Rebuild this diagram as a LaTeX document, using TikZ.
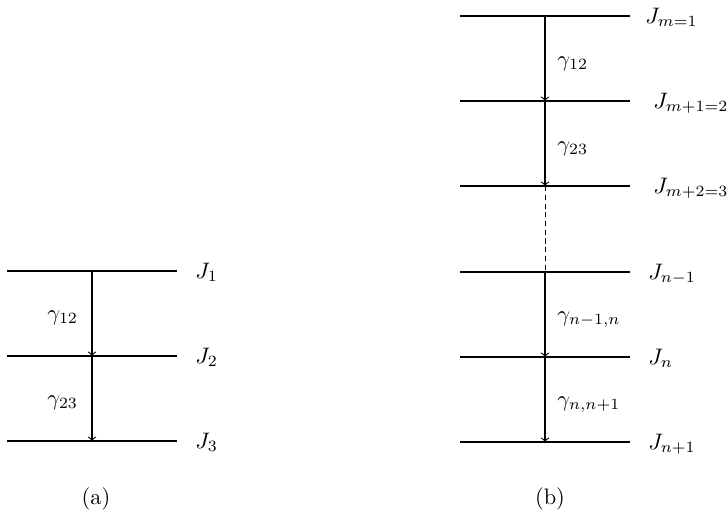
\documentclass[tikz,border=0pt]{standalone}
\begin{document}
\begin{tikzpicture}[x=0.446pt,y=-0.446pt,
  level/.style={line width=1.15pt},
  trans/.style={->,line width=0.5pt},
  gap/.style={line width=0.45pt,dash pattern=on 2.3pt off 1.6pt},
  jlab/.style={anchor=base west,inner sep=0pt},
  glab/.style={anchor=base west,inner sep=0pt},
  caplab/.style={anchor=base,inner sep=0pt}]
\useasboundingbox (0,0) rectangle (728,516);
% panel (a)
\foreach \n/\y in {1/271,2/356,3/441}{
  \coordinate (aL\n) at (7,\y);
  \coordinate (aR\n) at (177,\y);
  \coordinate (aM\n) at (92,\y);
}
\foreach \n in {1,2,3}{\draw[level] (aL\n) -- (aR\n);}
\draw[trans] (aM1) -- (aM2);
\draw[trans] (aM2) -- (aM3);
\node[jlab] (aJ1) at (195,278) {$J_1$};
\node[jlab] (aJ2) at (195,363) {$J_2$};
\node[jlab] (aJ3) at (195,448) {$J_3$};
\node[glab] (ag12) at (47,320) {$\gamma_{12}$};
\node[glab] (ag23) at (47,405) {$\gamma_{23}$};
\node[caplab] (capa) at (96,504) {(a)};
% panel (b)
\foreach \n/\y in {1/16,2/101,3/186,4/272,5/357,6/442}{
  \coordinate (bL\n) at (460,\y);
  \coordinate (bR\n) at (630,\y);
  \coordinate (bM\n) at (545,\y);
}
\foreach \n in {1,...,6}{\draw[level] (bL\n) -- (bR\n);}
\draw[trans] (bM1) -- (bM2);
\draw[trans] (bM2) -- (bM3);
\draw[gap] (bM3) -- (bM4);
\draw[trans] (bM4) -- (bM5);
\draw[trans] (bM5) -- (bM6);
\node[jlab] (bJ1) at (645,23) {$J_{m=1}$};
\node[jlab] (bJ2) at (653,108) {$J_{m+1=2}$};
\node[jlab] (bJ3) at (653,193) {$J_{m+2=3}$};
\node[jlab] (bJ4) at (648,279) {$J_{n-1}$};
\node[jlab] (bJ5) at (648,364) {$J_{n}$};
\node[jlab] (bJ6) at (648,449) {$J_{n+1}$};
\node[glab] (bg12) at (557,66) {$\gamma_{12}$};
\node[glab] (bg23) at (557,151) {$\gamma_{23}$};
\node[glab] (bg45) at (557,321) {$\gamma_{n-1,n}$};
\node[glab] (bg56) at (557,406) {$\gamma_{n,n+1}$};
\node[caplab] (capb) at (550,504) {(b)};
\end{tikzpicture}
\end{document}
